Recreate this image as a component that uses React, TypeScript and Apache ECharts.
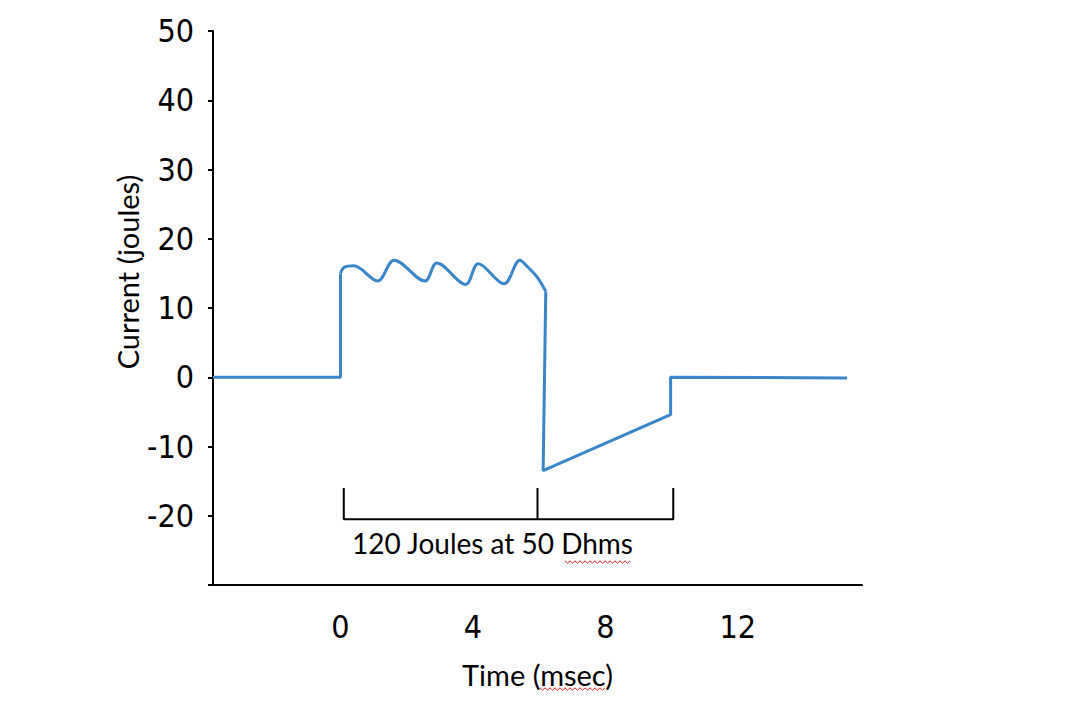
import React, { useEffect, useRef } from "react";
import * as echarts from "echarts";

// ---- data (msec, joules) ----
const xTickValues = [0, 4, 8, 12];
const leadX = [-3.85, 0, 0];
const leadY = [0, 0, 15.0];
const waveX = [0, 0.12, 0.4, 1.12, 1.62, 2.55, 2.91, 3.78, 4.16, 4.94, 5.42, 5.64, 5.95, 6.2];
const waveY = [15.0, 15.9, 16.1, 13.9, 16.9, 13.9, 16.5, 13.4, 16.4, 13.5, 16.9, 16.0, 14.4, 12.4];
const tailX = [6.2, 6.12, 9.97, 9.97, 15.3];
const tailY = [12.4, -13.5, -5.4, 0, -0.1];
const bracketX = [0.1, 0.1, 10.05, 10.05];
const bracketY = [-16.0, -20.5, -20.5, -16.0];
const bracketMidX = [5.95, 5.95];
const bracketMidY = [-16.0, -20.5];
const annotation = "120 Joules at 50 Dhms";
const xName = "Time (msec)";
const yName = "Current (joules)";

const zip = (xs: number[], ys: number[]) => xs.map((x, i) => [x, ys[i]]);

const squiggle = (x0: number, x1: number, y: number) => {
  const pts: number[][] = [];
  let up = true;
  for (let x = x0; x <= x1; x += 2.5) {
    pts.push([x, up ? y - 1.2 : y + 1.2]);
    up = !up;
  }
  return pts;
};

const BLUE = "#3A86C8";
const TICKFONT = "'Liberation Sans Narrow', 'DejaVu Sans Condensed', sans-serif";
const NOTEFONT = "Lato, 'Noto Sans', sans-serif";

export default function App() {
  const ref = useRef<HTMLDivElement>(null);
  useEffect(() => {
    if (!ref.current) return;
    const chart = echarts.init(ref.current, null, { renderer: "svg" });
    const lineStyle = { color: BLUE, width: 3 };
    chart.setOption({
      animation: false,
      backgroundColor: "#ffffff",
      grid: { left: 213, top: 31, right: 222, bottom: 135 },
      xAxis: {
        type: "value",
        min: -3.85,
        max: 15.75,
        axisLine: { onZero: false, lineStyle: { color: "#000", width: 2 } },
        axisTick: { show: false },
        splitLine: { show: false },
        axisLabel: {
          customValues: xTickValues,
          margin: 26,
          color: "#000",
          fontSize: 32,
          fontFamily: TICKFONT,
        },
        name: xName,
        nameLocation: "middle",
        nameGap: 75,
        nameTextStyle: { color: "#000", fontSize: 29, fontFamily: NOTEFONT },
      },
      yAxis: {
        type: "value",
        min: -30,
        max: 50,
        interval: 10,
        axisLine: { onZero: false, lineStyle: { color: "#000", width: 2 } },
        axisTick: { show: true, length: 5, lineStyle: { color: "#000", width: 2 } },
        splitLine: { show: false },
        axisLabel: {
          margin: 19,
          color: "#000",
          fontSize: 32,
          fontFamily: TICKFONT,
          formatter: (v: number) => (v === -30 ? "" : String(v)),
        },
      },
      series: [
        { type: "line", data: zip(leadX, leadY), symbol: "none", lineStyle, silent: true },
        { type: "line", data: zip(waveX, waveY), symbol: "none", smooth: 0.35, lineStyle, silent: true },
        { type: "line", data: zip(tailX, tailY), symbol: "none", lineStyle, silent: true },
        { type: "line", data: zip(bracketX, bracketY), symbol: "none", lineStyle: { color: "#000", width: 2 }, silent: true },
        { type: "line", data: zip(bracketMidX, bracketMidY), symbol: "none", lineStyle: { color: "#000", width: 2 }, silent: true },
      ],
      graphic: [
        {
          type: "text",
          x: 127,
          y: 272,
          rotation: Math.PI / 2,
          style: {
            text: yName,
            fill: "#000",
            fontSize: 29,
            fontFamily: NOTEFONT,
            textAlign: "center",
            textVerticalAlign: "middle",
          },
        },
        {
          type: "text",
          x: 352,
          y: 543,
          style: {
            text: annotation,
            fill: "#000",
            fontSize: 28,
            fontFamily: NOTEFONT,
            textAlign: "left",
            textVerticalAlign: "middle",
          },
        },
        {
          type: "polyline",
          shape: { points: squiggle(565, 632, 562) },
          style: { stroke: "#e02020", lineWidth: 1, fill: "none" },
        },
        {
          type: "polyline",
          shape: { points: squiggle(540, 607, 689) },
          style: { stroke: "#e02020", lineWidth: 1, fill: "none" },
        },
      ],
    });
    return () => chart.dispose();
  }, []);
  return (
    <div
      ref={ref}
      style={{ width: 1084, height: 720, position: "fixed", left: 0, top: 0 }}
    />
  );
}
